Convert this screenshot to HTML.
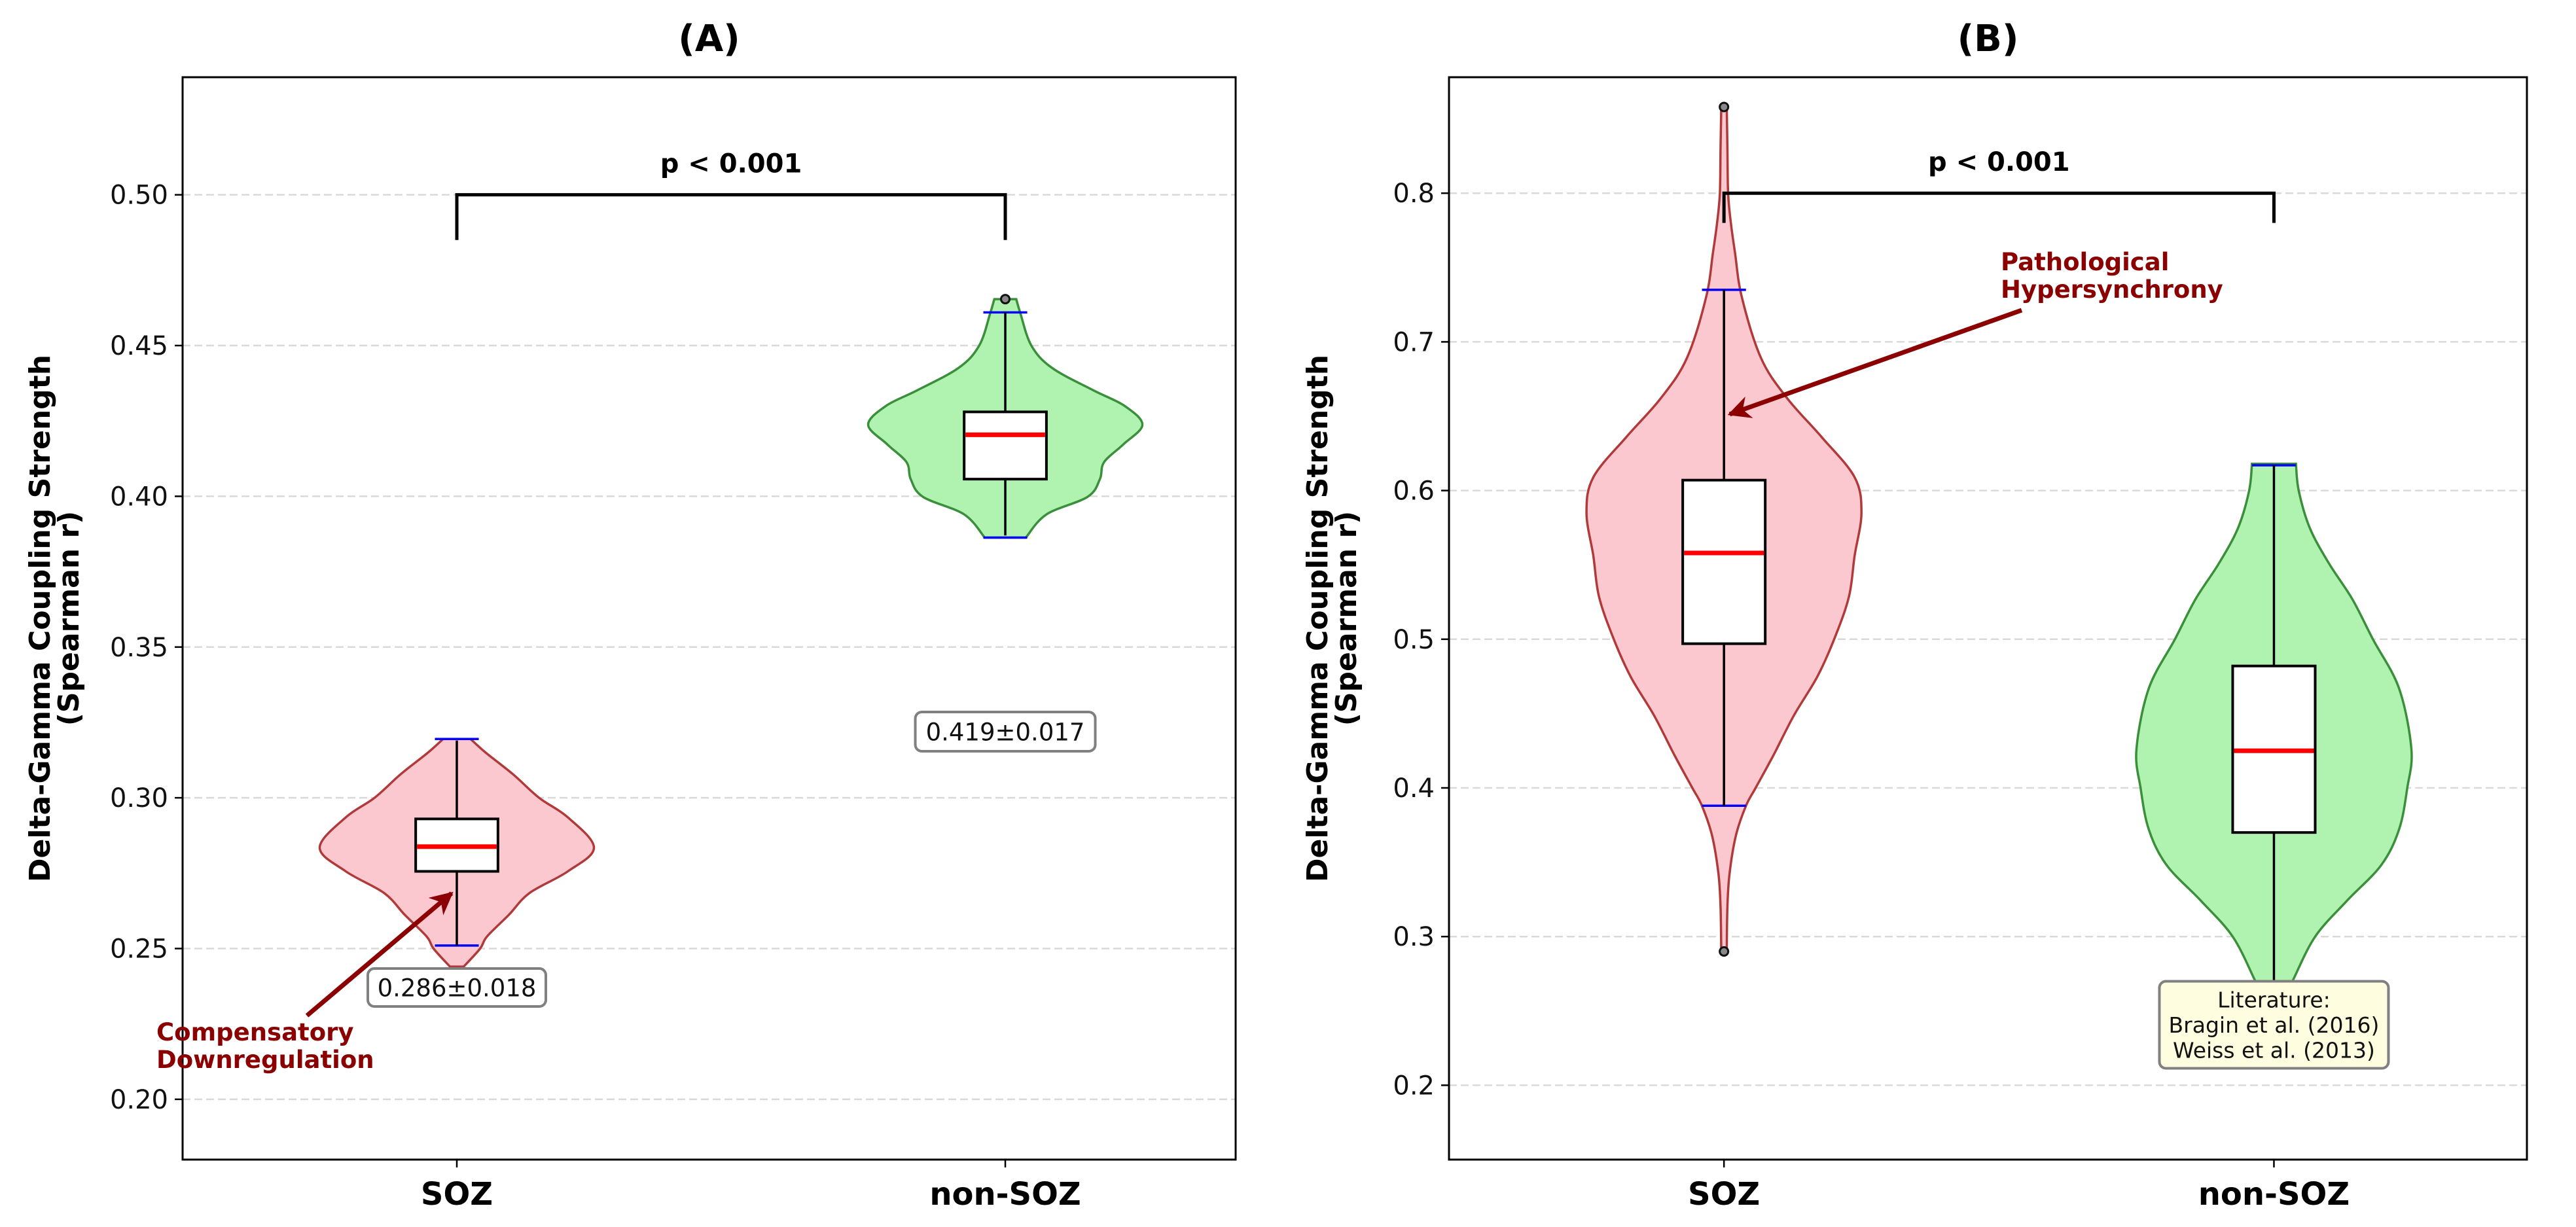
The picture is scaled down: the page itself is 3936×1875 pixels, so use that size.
<!DOCTYPE html>
<html><head><meta charset="utf-8"><style>
html,body{margin:0;padding:0;background:#fff;}
svg{display:block;font-family:"DejaVu Sans","Liberation Sans",sans-serif;}
</style></head><body>
<svg id="fig" width="3936" height="1875" viewBox="0 0 3936 1875" xmlns="http://www.w3.org/2000/svg"></svg>
<script>
// ---- data ----
const categories = ["SOZ", "non-SOZ"];
const ticksA = [0.20, 0.25, 0.30, 0.35, 0.40, 0.45, 0.50];
const tickLabelsA = ["0.20","0.25","0.30","0.35","0.40","0.45","0.50"];
const ticksB = [0.2, 0.3, 0.4, 0.5, 0.6, 0.7, 0.8];
const tickLabelsB = ["0.2","0.3","0.4","0.5","0.6","0.7","0.8"];

// violin profiles: y values and relative density (0..1)
const aSozY    = [0.244,0.250,0.254,0.2612,0.2684,0.2756,0.2835,0.2935,0.300,0.3078,0.315,0.3195];
const aSozD    = [0.05,0.17,0.22,0.38,0.53,0.81,1.0,0.81,0.60,0.41,0.21,0.10];
const aNonY    = [0.3863,0.394,0.3998,0.4057,0.4113,0.4172,0.4237,0.430,0.4352,0.4426,0.450,0.4607,0.4654];
const aNonD    = [0.15,0.30,0.60,0.69,0.72,0.86,1.0,0.87,0.64,0.34,0.19,0.11,0.08];
const bSozY    = [0.290,0.320,0.342,0.368,0.388,0.400,0.422,0.449,0.475,0.502,0.529,0.556,0.585,0.609,0.636,0.662,0.689,0.730,0.760,0.780,0.800,0.830,0.858];
const bSozD    = [0.02,0.025,0.04,0.087,0.16,0.23,0.36,0.51,0.68,0.81,0.91,0.95,1.0,0.95,0.71,0.46,0.27,0.13,0.08,0.05,0.03,0.025,0.02];
const bNonY    = [0.245,0.255,0.271,0.300,0.324,0.348,0.372,0.400,0.426,0.467,0.500,0.527,0.551,0.575,0.600,0.618];
const bNonD    = [0.02,0.06,0.14,0.30,0.53,0.78,0.91,0.97,1.0,0.91,0.72,0.57,0.40,0.26,0.18,0.16];

// box stats: [whiskerLow, q1, median, q3, whiskerHigh]
const aSozBox = [0.251, 0.2756, 0.2838, 0.293, 0.319];
const aNonBox = [0.387, 0.4057, 0.4204, 0.428, 0.461];
const bSozBox = [0.388, 0.497, 0.558, 0.607, 0.735];
const bNonBox = [0.250, 0.370, 0.425, 0.482, 0.617];
// violin extrema (blue caps)
const aSozExt = [0.251, 0.3195];
const aNonExt = [0.3863, 0.461];
const bSozExt = [0.388, 0.735];
const bNonExt = [0.245, 0.617];
// outliers
const aSozOut = [];
const aNonOut = [0.4654];
const bSozOut = [0.290, 0.858];
const bNonOut = [];

const NS = "http://www.w3.org/2000/svg";
const svg = document.getElementById('fig');
function mk(tag, attrs, parent) {
  const e = document.createElementNS(NS, tag);
  for (const k in attrs) e.setAttribute(k, attrs[k]);
  (parent || svg).appendChild(e);
  return e;
}
function smoothPath(pts) {
  let d = "M" + pts[0][0].toFixed(1) + "," + pts[0][1].toFixed(1);
  for (let i = 0; i < pts.length - 1; i++) {
    const p0 = pts[Math.max(0, i - 1)], p1 = pts[i], p2 = pts[i + 1], p3 = pts[Math.min(pts.length - 1, i + 2)];
    const c1 = [p1[0] + (p2[0] - p0[0]) / 6, p1[1] + (p2[1] - p0[1]) / 6];
    const c2 = [p2[0] - (p3[0] - p1[0]) / 6, p2[1] - (p3[1] - p1[1]) / 6];
    d += "C" + c1[0].toFixed(1) + "," + c1[1].toFixed(1) + " " + c2[0].toFixed(1) + "," + c2[1].toFixed(1) + " " + p2[0].toFixed(1) + "," + p2[1].toFixed(1);
  }
  return d;
}

function panel(cfg) {
  const g = mk('g', {});
  
  
  const L = cfg.left, R = cfg.right, T = 118, B = 1772;
  const xs = v => L + (v - cfg.xlim[0]) / (cfg.xlim[1] - cfg.xlim[0]) * (R - L);
  const ys = v => T + (cfg.ylim[1] - v) / (cfg.ylim[1] - cfg.ylim[0]) * (B - T);
  const pxPerUnit = (R - L) / (cfg.xlim[1] - cfg.xlim[0]);

  cfg.ticks.forEach((t, i) => {
    const gl = mk('line', {x1: L, x2: R, y1: ys(t), y2: ys(t), stroke: '#d9d9d9', 'stroke-width': 2.5, 'stroke-dasharray': '12,6'}, g);
    
    
    mk('line', {x1: L - 12, x2: L, y1: ys(t), y2: ys(t), stroke: '#000', 'stroke-width': 2.5}, g);
    const tl = mk('text', {x: L - 22, y: ys(t) + 14, 'text-anchor': 'end', 'font-size': 40, fill: '#111'}, g);
    tl.textContent = cfg.tickLabels[i];
    
    
  });

  cfg.violins.forEach((vd, idx) => {
    const cx = xs(idx + 1);
    const right = vd.y.map((y, i) => [cx + vd.d[i] * 0.25 * pxPerUnit, ys(y)]);
    const left = vd.y.map((y, i) => [cx - vd.d[i] * 0.25 * pxPerUnit, ys(y)]).reverse();
    const lp = smoothPath(left);
    const d = smoothPath(right) + "L" + left[0][0].toFixed(1) + "," + left[0][1].toFixed(1) + lp.slice(lp.indexOf('C')) + "Z";
    const p = mk('path', {d: d, fill: vd.fill, stroke: vd.edge, 'stroke-width': 3.5}, g);
    
    
  });
  cfg.violins.forEach((vd, idx) => {
    const cx = xs(idx + 1);
    vd.ext.forEach(e => {
      const c = mk('line', {x1: cx - 0.04 * pxPerUnit, x2: cx + 0.04 * pxPerUnit, y1: ys(e), y2: ys(e), stroke: '#0000ff', 'stroke-width': 3.5}, g);
      
      
    });
  });
  cfg.violins.forEach((vd, idx) => {
    const cx = xs(idx + 1), b = vd.box, hw = 0.075 * pxPerUnit;
    mk('line', {x1: cx, x2: cx, y1: ys(b[0]), y2: ys(b[1]), stroke: '#000', 'stroke-width': 3.5}, g);
    mk('line', {x1: cx, x2: cx, y1: ys(b[3]), y2: ys(b[4]), stroke: '#000', 'stroke-width': 3.5}, g);
    const r = mk('rect', {x: cx - hw, y: ys(b[3]), width: 2 * hw, height: ys(b[1]) - ys(b[3]), fill: '#fff', stroke: '#000', 'stroke-width': 4}, g);
    
    
    const m = mk('line', {x1: cx - hw + 2, x2: cx + hw - 2, y1: ys(b[2]), y2: ys(b[2]), stroke: '#ff0000', 'stroke-width': 7}, g);
    
    
    vd.out.forEach(o => {
      const c = mk('circle', {cx: cx, cy: ys(o), r: 6.5, fill: '#888', stroke: '#111', 'stroke-width': 3}, g);
      
      
    });
  });

  const x1 = xs(1), x2 = xs(2), yb = ys(cfg.bracket[0]);
  const br = mk('path', {d: `M${x1},${ys(cfg.bracket[1])}L${x1},${yb}L${x2},${yb}L${x2},${ys(cfg.bracket[2])}`, fill: 'none', stroke: '#000', 'stroke-width': 5}, g);
  
  
  const pt = mk('text', {x: (x1 + x2) / 2, y: yb - 34, 'text-anchor': 'middle', 'font-size': 40, 'font-weight': 'bold'}, g);
  pt.textContent = 'p < 0.001';
  
  

  const fr = mk('rect', {x: L, y: T, width: R - L, height: B - T, fill: 'none', stroke: '#000', 'stroke-width': 3}, g);
  
  

  categories.forEach((c, i) => {
    mk('line', {x1: xs(i + 1), x2: xs(i + 1), y1: B, y2: B + 12, stroke: '#000', 'stroke-width': 2.5}, g);
    const t = mk('text', {x: xs(i + 1), y: 1841, 'text-anchor': 'middle', 'font-size': 48, 'font-weight': 'bold'}, g);
    t.textContent = c;
    
    
  });

  const tt = mk('text', {x: (L + R) / 2, y: 78, 'text-anchor': 'middle', 'font-size': 56, 'font-weight': 'bold'}, g);
  tt.textContent = cfg.title;
  
  

  const yl = mk('text', {transform: `translate(${cfg.ylabX},945) rotate(-90)`, 'text-anchor': 'middle', 'font-size': 44, 'font-weight': 'bold'}, g);
  
  
  const t1 = mk('tspan', {x: 0, y: 0}, yl); t1.textContent = 'Delta-Gamma Coupling Strength';
  const t2 = mk('tspan', {x: 0, y: 44}, yl); t2.textContent = '(Spearman r)';
  return {g, xs, ys};
}

const PINK = '#fcc8d0', PINKE = '#b03a3a', GREEN = '#b0f2b0', GREENE = '#3a8f3a';

const A = panel({name: 'panel-a', title: '(A)', left: 279, right: 1888, xlim: [0.5, 2.42], ylim: [0.18, 0.539],
  ticks: ticksA, tickLabels: tickLabelsA, ylabX: 76, bracket: [0.50, 0.485, 0.485],
  violins: [
    {y: aSozY, d: aSozD, fill: PINK, edge: PINKE, box: aSozBox, ext: aSozExt, out: aSozOut},
    {y: aNonY, d: aNonD, fill: GREEN, edge: GREENE, box: aNonBox, ext: aNonExt, out: aNonOut}
  ]});
const Bp = panel({name: 'panel-b', title: '(B)', left: 2214, right: 3861, xlim: [0.5, 2.46], ylim: [0.15, 0.878],
  ticks: ticksB, tickLabels: tickLabelsB, ylabX: 2028, bracket: [0.80, 0.78, 0.78],
  violins: [
    {y: bSozY, d: bSozD, fill: PINK, edge: PINKE, box: bSozBox, ext: bSozExt, out: bSozOut},
    {y: bNonY, d: bNonD, fill: GREEN, edge: GREENE, box: bNonBox, ext: bNonExt, out: bNonOut}
  ]});

const defs = mk('defs', {});
const mkr = mk('marker', {id: 'ah', viewBox: '0 0 10 10', refX: 9, refY: 5, markerWidth: 5, markerHeight: 5, orient: 'auto'}, defs);
mk('path', {d: 'M0,0L10,5L0,10L3,5Z', fill: '#8b0000'}, mkr);

function label(parent, x, y, w, h, lines, fill, fs, name) {
  const g = mk('g', {}, parent);
  
  
  mk('rect', {x: x - w / 2, y: y - h / 2, width: w, height: h, rx: 10, fill: fill, stroke: '#808080', 'stroke-width': 4}, g);
  const lh = fs * 1.17, y0 = y - (lines.length - 1) * lh / 2 + fs * 0.36;
  lines.forEach((l, i) => {
    const t = mk('text', {x: x, y: y0 + i * lh, 'text-anchor': 'middle', 'font-size': fs, fill: '#111'}, g);
    t.textContent = l;
  });
}
label(A.g, A.xs(1), 1509, 272, 58, ['0.286±0.018'], '#fff', 37, 'mean-sd-label-soz');
label(A.g, A.xs(2), 1118, 275, 60, ['0.419±0.017'], '#fff', 37, 'mean-sd-label-non-soz');
label(Bp.g, Bp.xs(2), 1566, 350, 133, ['Literature:', 'Bragin et al. (2016)', 'Weiss et al. (2013)'], '#fffde0', 33, 'literature-note');

const a1 = mk('line', {x1: 469, y1: 1552, x2: 690, y2: 1365, stroke: '#8b0000', 'stroke-width': 7, 'marker-end': 'url(#ah)'}, A.g);
 
const c1 = mk('text', {x: 239, y: 1590, 'font-size': 37, 'font-weight': 'bold', fill: '#8b0000'}, A.g);
 
mk('tspan', {x: 239, y: 1590}, c1).textContent = 'Compensatory';
mk('tspan', {x: 239, y: 1632}, c1).textContent = 'Downregulation';

const a2 = mk('line', {x1: 3089, y1: 474, x2: 2643, y2: 633, stroke: '#8b0000', 'stroke-width': 7, 'marker-end': 'url(#ah)'}, Bp.g);
 
const c2 = mk('text', {x: 3057, y: 413, 'font-size': 37, 'font-weight': 'bold', fill: '#8b0000'}, Bp.g);
 
mk('tspan', {x: 3057, y: 413}, c2).textContent = 'Pathological';
mk('tspan', {x: 3057, y: 455}, c2).textContent = 'Hypersynchrony';
</script>
</body></html>
